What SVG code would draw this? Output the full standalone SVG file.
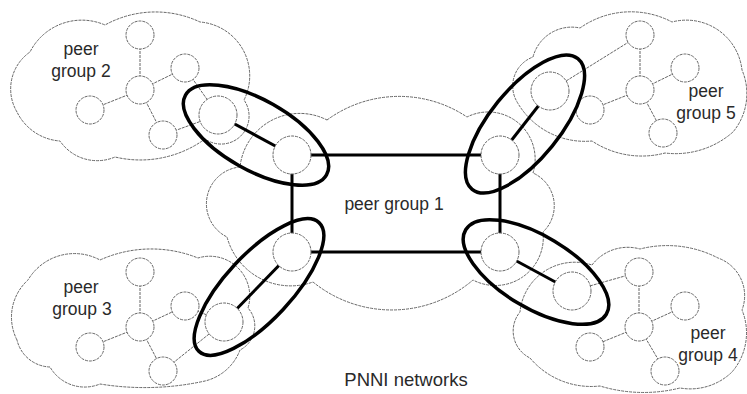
<svg xmlns="http://www.w3.org/2000/svg" width="747" height="394" viewBox="0 0 747 394">
<style>
.cloud{fill:none;stroke:#666;stroke-width:1;stroke-dasharray:3 1}
.node circle{fill:#fff;stroke:#666;stroke-width:1;stroke-dasharray:3 1}
.thin{stroke:#666;stroke-width:1;stroke-dasharray:3 1;fill:none}
.thick{stroke:#000;stroke-width:3;fill:none}
.ell{fill:none;stroke:#000;stroke-width:3.5}
text{font-family:"Liberation Sans",Arial,Helvetica,sans-serif;font-size:17.5px;fill:#2a2a2a;text-anchor:middle}
</style>
<rect width="747" height="394" fill="#fff"/>
<g id="clouds">
<path id="cloud-pg1" class="cloud" d="M 327 120 A 122 122 0 0 1 467 117 A 47 47 0 0 1 533 173 A 36 36 0 0 1 543 232 A 48 48 0 0 1 473 280 A 125 125 0 0 1 313 282 A 66 66 0 0 1 227 237 A 37 37 0 0 1 240 167 A 60 60 0 0 1 327 120 Z"/>
<path id="cloud-pg2" class="cloud" d="M 17 112 A 45 45 0 0 1 30 52 A 58 58 0 0 1 105 25 A 104 104 0 0 1 200 22 A 54 54 0 0 1 244 100 A 28 28 0 0 1 205 139 A 110 110 0 0 1 115 157 A 45 45 0 0 1 60 141 A 52 52 0 0 1 17 112 Z"/>
<path id="cloud-pg3" class="cloud" d="M 17 340 A 50 50 0 0 1 28 280 A 54 54 0 0 1 100 260 A 125 125 0 0 1 198 258 A 40 40 0 0 1 248 308 A 27 27 0 0 1 240 350 A 50 50 0 0 1 205 381 A 280 280 0 0 1 100 384 A 40 40 0 0 1 50 367 A 35 35 0 0 1 17 340 Z"/>
<path id="cloud-pg5" class="cloud" d="M 533 57 A 40 40 0 0 1 580 28 A 88 88 0 0 1 672 22 A 56 56 0 0 1 742 70 A 60 60 0 0 1 733 132 A 87 87 0 0 1 665 153 A 90 90 0 0 1 592 141 A 78 78 0 0 1 516 100 A 31 31 0 0 1 533 57 Z"/>
<path id="cloud-pg4" class="cloud" d="M 592 265 A 45 45 0 0 1 640 249 A 110 110 0 0 1 718 258 A 40 40 0 0 1 742 310 A 60 60 0 0 1 732 372 A 60 60 0 0 1 680 388 A 150 150 0 0 1 600 386 A 80 80 0 0 1 530 358 A 30 30 0 0 1 520 312 A 55 55 0 0 1 592 265 Z"/>
</g>
<g id="connectors">
<g class="thin">
<line x1="140" y1="90" x2="140" y2="35"/>
<line x1="140" y1="90" x2="185" y2="68"/>
<line x1="140" y1="90" x2="90" y2="110"/>
<line x1="140" y1="90" x2="163" y2="135"/>
<line x1="185" y1="68" x2="218" y2="115"/>
<line x1="163" y1="135" x2="218" y2="115"/>
<line x1="140" y1="327" x2="140" y2="272"/>
<line x1="140" y1="327" x2="185" y2="306"/>
<line x1="140" y1="327" x2="90" y2="347"/>
<line x1="140" y1="327" x2="163" y2="371"/>
<line x1="185" y1="306" x2="224" y2="322"/>
<line x1="163" y1="371" x2="224" y2="322"/>
<line x1="640" y1="90" x2="640" y2="35"/>
<line x1="640" y1="90" x2="685" y2="68"/>
<line x1="640" y1="90" x2="590" y2="110"/>
<line x1="640" y1="90" x2="663" y2="133"/>
<line x1="640" y1="35" x2="550" y2="91"/>
<line x1="639" y1="327" x2="639" y2="272"/>
<line x1="639" y1="327" x2="685" y2="306"/>
<line x1="639" y1="327" x2="590" y2="347"/>
<line x1="639" y1="327" x2="665" y2="371"/>
<line x1="639" y1="272" x2="572" y2="291"/>
</g>
<g class="thick">
<line x1="292" y1="155" x2="500" y2="155"/>
<line x1="292" y1="252" x2="500" y2="252"/>
<line x1="292" y1="155" x2="292" y2="252"/>
<line x1="500" y1="155" x2="500" y2="252"/>
<line x1="218" y1="115" x2="292" y2="155"/>
<line x1="292" y1="252" x2="224" y2="322"/>
<line x1="500" y1="155" x2="550" y2="91"/>
<line x1="500" y1="252" x2="572" y2="291"/>
</g>
</g>
<g id="pg1-nodes">
<g id="node-b" class="node"><circle cx="292" cy="155" r="19"/></g>
<g id="node-c" class="node"><circle cx="292" cy="252" r="19"/></g>
<g id="node-e" class="node"><circle cx="500" cy="155" r="19"/></g>
<g id="node-g" class="node"><circle cx="500" cy="252" r="19"/></g>
</g>
<g id="pg2-nodes">
<g id="pg2-gw" class="node"><circle cx="218" cy="115" r="19"/></g>
<g id="pg2-top" class="node"><circle cx="140" cy="35" r="14"/></g>
<g id="pg2-hub" class="node"><circle cx="140" cy="90" r="14"/></g>
<g id="pg2-ur" class="node"><circle cx="185" cy="68" r="14"/></g>
<g id="pg2-left" class="node"><circle cx="90" cy="110" r="14"/></g>
<g id="pg2-low" class="node"><circle cx="163" cy="135" r="14"/></g>
</g>
<g id="pg3-nodes">
<g id="pg3-gw" class="node"><circle cx="224" cy="322" r="19"/></g>
<g id="pg3-top" class="node"><circle cx="140" cy="272" r="14"/></g>
<g id="pg3-hub" class="node"><circle cx="140" cy="327" r="14"/></g>
<g id="pg3-ur" class="node"><circle cx="185" cy="306" r="14"/></g>
<g id="pg3-left" class="node"><circle cx="90" cy="347" r="14"/></g>
<g id="pg3-low" class="node"><circle cx="163" cy="371" r="14"/></g>
</g>
<g id="pg5-nodes">
<g id="pg5-gw" class="node"><circle cx="550" cy="91" r="19"/></g>
<g id="pg5-top" class="node"><circle cx="640" cy="35" r="14"/></g>
<g id="pg5-hub" class="node"><circle cx="640" cy="90" r="14"/></g>
<g id="pg5-right" class="node"><circle cx="685" cy="68" r="14"/></g>
<g id="pg5-near" class="node"><circle cx="590" cy="110" r="14"/></g>
<g id="pg5-low" class="node"><circle cx="663" cy="133" r="14"/></g>
</g>
<g id="pg4-nodes">
<g id="pg4-gw" class="node"><circle cx="572" cy="291" r="19"/></g>
<g id="pg4-top" class="node"><circle cx="639" cy="272" r="14"/></g>
<g id="pg4-hub" class="node"><circle cx="639" cy="327" r="14"/></g>
<g id="pg4-right" class="node"><circle cx="685" cy="306" r="14"/></g>
<g id="pg4-ll" class="node"><circle cx="590" cy="347" r="14"/></g>
<g id="pg4-low" class="node"><circle cx="665" cy="371" r="14"/></g>
</g>
<g id="ellipses">
<ellipse class="ell" cx="256" cy="135" rx="81" ry="35" transform="rotate(29.5 256 135)"/>
<ellipse class="ell" cx="259" cy="287" rx="88" ry="33" transform="rotate(-47 259 287)"/>
<ellipse class="ell" cx="525" cy="124" rx="84" ry="35" transform="rotate(-51 525 124)"/>
<ellipse class="ell" cx="536" cy="272" rx="82" ry="36" transform="rotate(31 536 272)"/>
</g>
<g id="labels">
<text x="81" y="55">peer</text>
<text x="81" y="77">group 2</text>
<text x="81" y="293">peer</text>
<text x="82" y="315">group 3</text>
<text x="706" y="97">peer</text>
<text x="706" y="119">group 5</text>
<text x="708" y="339">peer</text>
<text x="708" y="361">group 4</text>
<text x="394" y="210">peer group 1</text>
<text x="406" y="386" style="font-size:18.5px">PNNI networks</text>
</g>
</svg>
